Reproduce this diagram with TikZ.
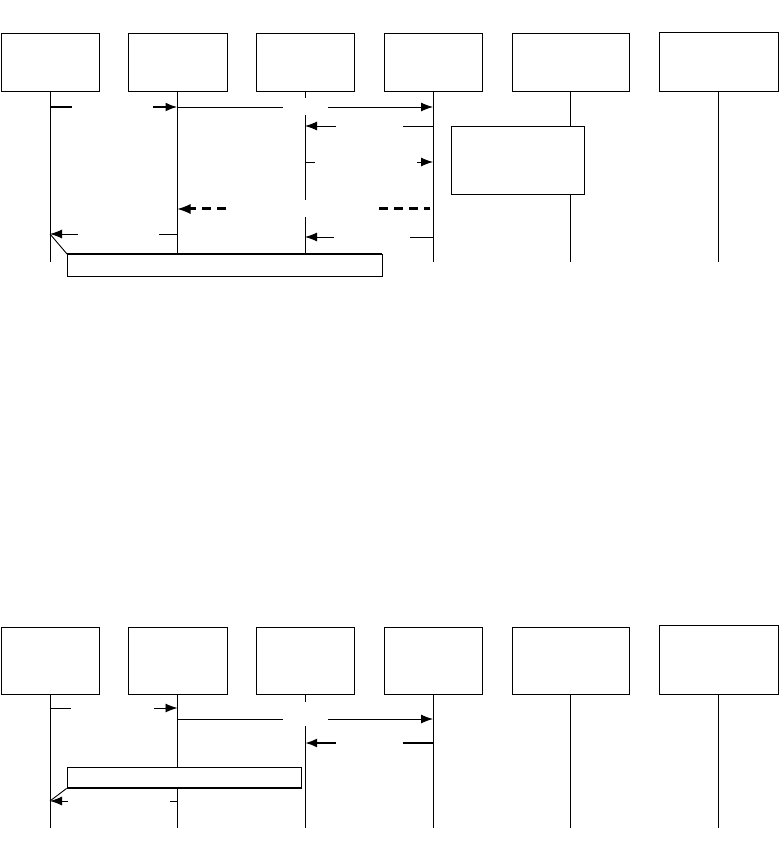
\documentclass[tikz,border=0pt]{standalone}
\usetikzlibrary{arrows.meta}
\begin{document}
\begin{tikzpicture}[x=1pt,y=-1pt,
  obj/.style={draw,line width=0.9pt,inner sep=0pt,outer sep=0pt,fill=white},
  life/.style={line width=0.9pt},
  msg/.style={line width=0.9pt},
  msgthick/.style={line width=2.2pt},
  tip/.style={-{Latex[length=12pt,width=9pt]}},
  dashmsg/.style={line width=3pt,dash pattern=on 9pt off 6pt},
  notebox/.style={draw,line width=0.9pt,fill=white}]
\useasboundingbox (0,0) rectangle (779,858);
% ---------------- top panel ----------------
\node[obj,minimum width=98pt,minimum height=58pt] (a1) at (50,62) {};
\node[obj,minimum width=99pt,minimum height=58pt] (a2) at (177.5,62) {};
\node[obj,minimum width=98pt,minimum height=58pt] (a3) at (305,62) {};
\node[obj,minimum width=98pt,minimum height=58pt] (a4) at (433,62) {};
\node[obj,minimum width=117pt,minimum height=58pt] (a5) at (570.5,62) {};
\node[obj,minimum width=119pt,minimum height=59pt] (a6) at (718.5,61.5) {};
\coordinate (e1) at (50,262);
\coordinate (e2) at (177.5,262);
\coordinate (e4) at (433,262);
\coordinate (e5) at (570.5,262);
\coordinate (e6) at (718.5,262);
\draw[life] (a1.south) -- (e1);
\draw[life] (a2.south) -- (e2);
\draw[life] (a3.south) -- (305,98) (305,115) -- (305,200) (305,217) -- (305,262);
\draw[life] (a4.south) -- (e4);
\draw[life] (a5.south) -- (e5);
\draw[life] (a6.south) -- (e6);
% messages
\draw[msgthick] (50,107) -- (72,107);
\draw[msgthick,tip] (153,107) -- (177.5,107);
\draw[msg] (177.5,107) -- (283,107);
\draw[msg,tip] (328,107) -- (433,107);
\draw[msg] (403,126) -- (433,126);
\draw[msg,tip] (336,126) -- (305,126);
\draw[msg] (305,162) -- (315,162);
\draw[msg,tip] (417,162) -- (433,162);
\draw[dashmsg] (379,209) -- (430,209);
\draw[dashmsg] (226,209) -- (186,209);
\draw[line width=1pt,-{Latex[length=13pt,width=10pt]}] (190,209) -- (177.5,209);
\draw[msg] (159,234) -- (177.5,234);
\draw[msg,tip] (78,234) -- (50,234);
\draw[msg] (410,237) -- (433,237);
\draw[msg,tip] (334,237) -- (305,237);
% notes
\node[notebox,inner sep=0pt,minimum width=133pt,minimum height=68pt] (n1) at (517.5,160) {};
\draw[msg] (50,234) -- (67,254);
\node[notebox,inner sep=0pt,minimum width=315pt,minimum height=22pt] (n2) at (224.5,265) {};
\draw[line width=2pt] (n2.north west) -- (n2.north east);
% ---------------- bottom panel ----------------
\node[obj,minimum width=98pt,minimum height=67pt] (b1) at (50,660.5) {};
\node[obj,minimum width=99pt,minimum height=67pt] (b2) at (177.5,660.5) {};
\node[obj,minimum width=98pt,minimum height=67pt] (b3) at (305,660.5) {};
\node[obj,minimum width=98pt,minimum height=67pt] (b4) at (433,660.5) {};
\node[obj,minimum width=117pt,minimum height=67pt] (b5) at (570.5,660.5) {};
\node[obj,minimum width=119pt,minimum height=69pt] (b6) at (718.5,659.5) {};
\coordinate (f1) at (50,828);
\coordinate (f2) at (177.5,828);
\coordinate (f4) at (433,828);
\coordinate (f5) at (570.5,828);
\coordinate (f6) at (718.5,828);
\draw[life] (b1.south) -- (f1);
\draw[life] (b2.south) -- (f2);
\draw[life] (b3.south) -- (305,702) (305,726) -- (305,828);
\draw[life] (b4.south) -- (f4);
\draw[life] (b5.south) -- (f5);
\draw[life] (b6.south) -- (f6);
\draw[msg] (50,708) -- (71,708);
\draw[msg,tip] (154,708) -- (177.5,708);
\draw[msg] (177.5,719) -- (283,719);
\draw[msg,tip] (328,719) -- (433,719);
\draw[msgthick] (403,743) -- (433,743);
\draw[msgthick,tip] (336,743) -- (305,743);
\node[notebox,inner sep=0pt,minimum width=234pt,minimum height=21pt] (n3) at (184,777.5) {};
\draw[line width=2pt] (n3.south west) -- (n3.south east);
\draw[msg] (n3.south west) -- (50,801);
\draw[msg] (170,801) -- (177.5,801);
\draw[msg,tip] (68,801) -- (50,801);
\end{tikzpicture}
\end{document}
